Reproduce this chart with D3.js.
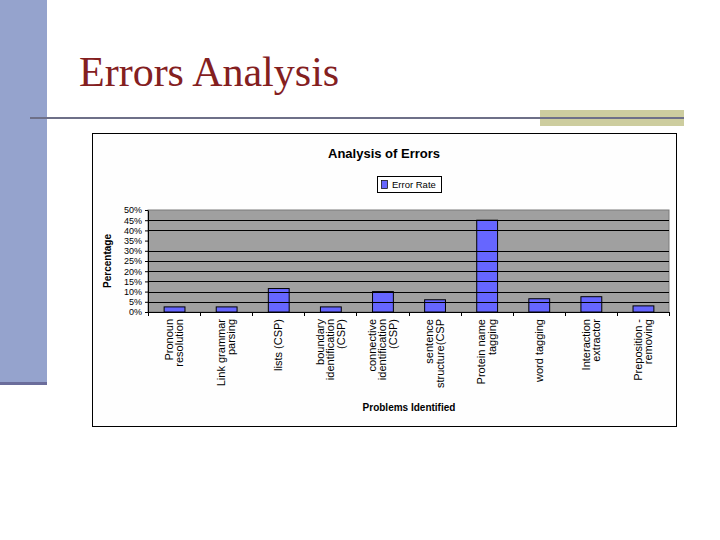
<!DOCTYPE html>
<html>
<head>
<meta charset="utf-8">
<script src="https://cdn.jsdelivr.net/npm/d3@7"></script>
<style>
  body { margin: 0; background: #fff; }
  svg { display: block; }
</style>
</head>
<body>
<div id="chart"></div>
<script>
// Data
const categories = [
    "Pronoun\nresolution",
    "Link grammar\nparsing",
    "lists (CSP)",
    "boundary\nidentification\n(CSP)",
    "connective\nidentification\n(CSP)",
    "sentence\nstructure(CSP",
    "Protein name\ntagging",
    "word tagging",
    "Interaction\nextractor",
    "Preposition -\nremoving"
];
const errorRate = [2.5, 2.5, 11.5, 2.5, 10, 6, 45, 6.5, 7.5, 3];
const yTicks = [0, 5, 10, 15, 20, 25, 30, 35, 40, 45, 50];
// the 35% line is missing on the original
const gridValues = [5, 10, 15, 20, 25, 30, 40, 45];

const W = 720, H = 540;
const svg = d3.select("#chart").append("svg")
    .attr("width", W).attr("height", H);

// slide decoration
svg.append("rect").attr("x", 0).attr("y", 0).attr("width", 47).attr("height", 382).attr("fill", "#95a3cd");
svg.append("rect").attr("x", 0).attr("y", 382).attr("width", 47).attr("height", 3).attr("fill", "#6b6d9b");
svg.append("rect").attr("x", 540).attr("y", 110).attr("width", 144).attr("height", 16).attr("fill", "#cdcd9f");
svg.append("line").attr("x1", 30).attr("x2", 684).attr("y1", 118).attr("y2", 118)
    .attr("stroke", "#6e7088").attr("stroke-width", 2);
svg.append("text").attr("x", 79).attr("y", 86)
    .text("Errors Analysis")
    .style("font-family", "'Liberation Serif', 'Times New Roman', serif")
    .style("font-size", "42px")
    .attr("fill", "#84201f");

// chart frame
svg.append("rect").attr("x", 92.5).attr("y", 133.5).attr("width", 584).attr("height", 293)
    .attr("fill", "#fefefe").attr("stroke", "#000").attr("stroke-width", 1);

const font = "'Liberation Sans', Arial, sans-serif";

svg.append("text").attr("x", 384).attr("y", 158).attr("text-anchor", "middle")
    .text("Analysis of Errors")
    .style("font-family", font).style("font-size", "13px").style("font-weight", "bold");

// legend
const lg = svg.append("g").attr("transform", "translate(377,176)");
lg.append("rect").attr("x", 0.5).attr("y", 0.5).attr("width", 64).attr("height", 16)
    .attr("fill", "#fff").attr("stroke", "#000");
lg.append("rect").attr("x", 4.5).attr("y", 4.5).attr("width", 6).attr("height", 8)
    .attr("fill", "#6666ff").attr("stroke", "#000").attr("stroke-width", 0.7);
lg.append("text").attr("x", 15).attr("y", 12).text("Error Rate")
    .style("font-family", font).style("font-size", "9.5px");

// plot area
const plot = {left: 148, right: 669, top: 210, bottom: 312};

const x = d3.scaleBand()
    .domain(categories)
    .range([plot.left, plot.right])
    .paddingInner(0.6)
    .paddingOuter(0.3);

const y = d3.scaleLinear()
    .domain([0, 50])
    .range([plot.bottom, plot.top]);

svg.append("rect")
    .attr("x", plot.left).attr("y", plot.top)
    .attr("width", plot.right - plot.left).attr("height", plot.bottom - plot.top)
    .attr("fill", "#a0a0a0").attr("stroke", "#7a7a7a");

// bars
svg.selectAll(".bar").data(errorRate).join("rect")
    .attr("class", "bar")
    .attr("x", (d, i) => x(categories[i]) + 0.5)
    .attr("y", d => y(d))
    .attr("width", x.bandwidth())
    .attr("height", d => y(0) - y(d))
    .attr("fill", "#6666ff")
    .attr("stroke", "#000").attr("stroke-width", 1);

// gridlines on top of bars, like the original
svg.selectAll(".grid").data(gridValues).join("line")
    .attr("class", "grid")
    .attr("x1", plot.left).attr("x2", plot.right)
    .attr("y1", d => Math.round(y(d)) + 0.5).attr("y2", d => Math.round(y(d)) + 0.5)
    .attr("stroke", "#000").attr("stroke-width", 1);

// y axis
const yAxis = svg.append("g")
    .attr("transform", "translate(" + plot.left + ",0)")
    .call(d3.axisLeft(y).tickValues(yTicks).tickFormat(d => d + "%").tickSize(3).tickSizeOuter(0));
yAxis.selectAll("text").style("font-family", font).style("font-size", "9px").attr("fill", "#000");
yAxis.select(".domain").attr("stroke", "#000");

// x axis line and ticks at band boundaries
const step = x.step();
const bounds = categories.map(c => x(c) - step * x.paddingInner() / 2).concat([plot.right]);
svg.append("line").attr("x1", plot.left).attr("x2", plot.right)
    .attr("y1", plot.bottom + 0.5).attr("y2", plot.bottom + 0.5).attr("stroke", "#000");
svg.selectAll(".xtick").data(bounds).join("line")
    .attr("class", "xtick")
    .attr("x1", d => Math.round(d) + 0.5).attr("x2", d => Math.round(d) + 0.5)
    .attr("y1", plot.bottom).attr("y2", plot.bottom + 4)
    .attr("stroke", "#000");

// rotated category labels
const lab = svg.selectAll(".xlab").data(categories).join("text")
    .attr("class", "xlab")
    .attr("transform", d => "translate(" + (x(d) + x.bandwidth() / 2) + "," + (plot.bottom + 7) + ") rotate(-90)")
    .attr("text-anchor", "end")
    .style("font-family", font).style("font-size", "11px");
lab.each(function(d) {
    const lines = d.split("\n");
    const t = d3.select(this);
    lines.forEach((ln, i) => {
        t.append("tspan").attr("x", 0)
            .attr("y", (i - (lines.length - 1) / 2) * 10.5 + 4)
            .text(ln);
    });
});

// axis titles
svg.append("text")
    .attr("transform", "translate(111,261) rotate(-90)")
    .attr("text-anchor", "middle")
    .text("Percentage")
    .style("font-family", font).style("font-size", "10px").style("font-weight", "bold");

svg.append("text").attr("x", 409).attr("y", 411).attr("text-anchor", "middle")
    .text("Problems Identified")
    .style("font-family", font).style("font-size", "10px").style("font-weight", "bold");
</script>
</body>
</html>
